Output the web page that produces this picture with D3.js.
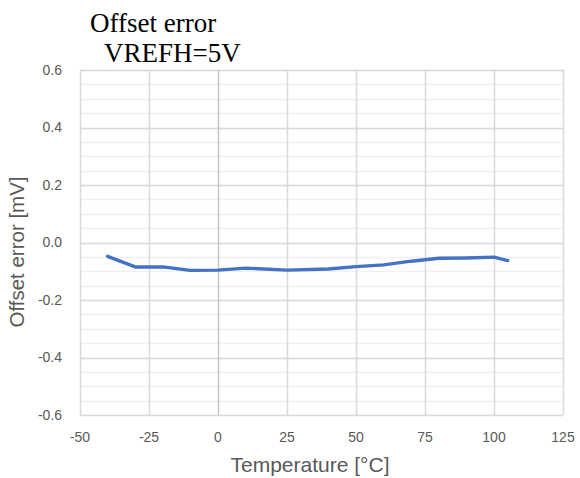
<!DOCTYPE html>
<html><head><meta charset="utf-8">
<script src="https://cdn.jsdelivr.net/npm/d3@7"></script>
<style>body{margin:0;background:#fff}svg{display:block}</style>
</head><body><svg id="c" width="580" height="478"></svg>
<script>
const temps = [-40,-30,-20,-10,0,10,25,40,50,60,70,80,90,100,105];
const offsetErr = [-0.048,-0.085,-0.085,-0.097,-0.096,-0.089,-0.096,-0.092,-0.084,-0.078,-0.065,-0.055,-0.054,-0.051,-0.063];
const xTicks = [-50,-25,0,25,50,75,100,125];
const yTicks = [-0.6,-0.4,-0.2,0.0,0.2,0.4,0.6];
const yMinor = d3.range(-0.6,0.6001,0.05).map(v=>+v.toFixed(2));
const titleLines = ["Offset error","VREFH=5V"];

const svg = d3.select("#c");
const L=80,R=563,T=70,B=415;
const x = d3.scaleLinear().domain([-50,125]).range([L,R]);
const y = d3.scaleLinear().domain([-0.6,0.6]).range([B,T]);
const lab = "'Liberation Sans Narrow','Arial Narrow','Liberation Sans',Arial,sans-serif";

svg.append("g").selectAll("line").data(yMinor).join("line")
  .attr("x1",L).attr("x2",R).attr("y1",d=>Math.round(y(d))+0.5).attr("y2",d=>Math.round(y(d))+0.5)
  .attr("stroke","#f0f0f0").attr("stroke-width",1.5);
svg.append("g").selectAll("line").data(yTicks).join("line")
  .attr("x1",L).attr("x2",R).attr("y1",d=>Math.round(y(d))+0.5).attr("y2",d=>Math.round(y(d))+0.5)
  .attr("stroke","#d9d9d9").attr("stroke-width",1.5);
svg.append("g").selectAll("line").data(xTicks).join("line")
  .attr("y1",T).attr("y2",B).attr("x1",d=>Math.round(x(d))+0.5).attr("x2",d=>Math.round(x(d))+0.5)
  .attr("stroke",d=>d===0?"#c4c4c4":"#d9d9d9").attr("stroke-width",1.5);

svg.append("g").selectAll("text").data(yTicks).join("text")
  .attr("x",62).attr("y",d=>y(d)).attr("dy","0.35em").attr("text-anchor","end")
  .attr("font-family",lab).attr("font-size",14).attr("fill","#595959")
  .text(d=>d.toFixed(1));
svg.append("g").selectAll("text").data(xTicks).join("text")
  .attr("x",d=>x(d)).attr("y",437).attr("dy","0.35em").attr("text-anchor","middle")
  .attr("font-family",lab).attr("font-size",14).attr("fill","#595959")
  .text(d=>d);

const line = d3.line().x((d,i)=>x(temps[i])).y(d=>y(d));
svg.append("path").datum(offsetErr).attr("d",line).attr("fill","none")
  .attr("stroke","#4472C4").attr("stroke-width",3.4).attr("stroke-linejoin","round").attr("stroke-linecap","round");

svg.append("text").attr("x",310).attr("y",472).attr("text-anchor","middle")
  .attr("font-family","'Liberation Sans',Arial,sans-serif").attr("font-size",21).attr("fill","#595959")
  .text("Temperature [°C]");
svg.append("text").attr("transform","translate(17,252) rotate(-90)").attr("dy","0.35em").attr("text-anchor","middle")
  .attr("font-family","'Liberation Sans',Arial,sans-serif").attr("font-size",20.5).attr("fill","#595959")
  .text("Offset error [mV]");

svg.append("text").attr("x",90).attr("y",31.5)
  .attr("font-family","'Liberation Serif','Times New Roman',serif").attr("font-size",27).attr("fill","#000")
  .text(titleLines[0]);
svg.append("text").attr("x",104).attr("y",62)
  .attr("font-family","'Liberation Serif','Times New Roman',serif").attr("font-size",27).attr("fill","#000")
  .text(titleLines[1]);
</script></body></html>
